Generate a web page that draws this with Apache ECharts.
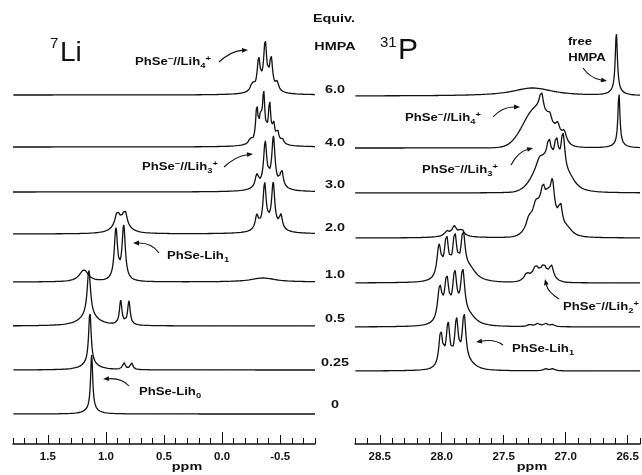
<!DOCTYPE html>
<html>
<head>
<meta charset="utf-8">
<script src="https://cdn.jsdelivr.net/npm/echarts@6/dist/echarts.min.js"></script>
<style>
  html, body { margin: 0; padding: 0; background: #fff; }
  #chart { width: 642px; height: 475px; }
</style>
</head>
<body>
<div id="chart"></div>
<script>
// equivalents of HMPA, one spectrum per row, top to bottom
const equivLabels = ['6.0', '4.0', '3.0', '2.0', '1.0', '0.5', '0.25', '0'];
const liTicks = [1.5, 1.0, 0.5, 0.0, -0.5];
const pTicks = [28.5, 28.0, 27.5, 27.0, 26.5];

// peaks: [shift (ppm), height, half width (ppm), 'g' = gaussian]
// 7Li
const li60 = [[-0.259, 8, 0.015], [-0.315, 29, 0.015], [-0.371, 44, 0.015], [-0.422, 30, 0.015], [-0.474, 8, 0.015], [-0.371, 7, 0.09]];
const li40 = [[-0.241, 5, 0.012], [-0.299, 34, 0.012], [-0.332, 20, 0.012], [-0.358, 44, 0.012], [-0.409, 36, 0.012], [-0.444, 16, 0.012], [-0.478, 11, 0.012], [-0.517, 6, 0.012], [-0.379, 6, 0.1]];
const li30 = [[-0.299, 13, 0.016], [-0.371, 42, 0.016], [-0.442, 47, 0.016], [-0.513, 17, 0.016], [-0.405, 7, 0.1]];
const li20 = [[-0.299, 14, 0.016], [-0.366, 43, 0.016], [-0.440, 43, 0.016], [-0.506, 14, 0.016], [-0.405, 7, 0.1],
              [0.903, 13, 0.022], [0.836, 15, 0.022], [0.871, 10, 0.07]];
const li10 = [[1.19, 12, 0.045], [0.914, 51, 0.017], [0.847, 54, 0.017], [-0.353, 4, 0.13]];
const li05 = [[1.147, 46, 0.017], [1.147, 10, 0.09], [0.873, 24, 0.013], [0.802, 24, 0.013]];
const li025 = [[1.138, 52, 0.013], [1.138, 6, 0.08], [0.845, 7, 0.013], [0.780, 7, 0.013]];
const li00 = [[1.123, 55, 0.011], [1.123, 4, 0.06]];

// 31P
const p60 = [[27.266, 8, 0.2], [26.591, 58, 0.0105], [26.591, 4, 0.05]];
const p40 = [[27.242, 38, 0.12, 'g'], [27.196, 20, 0.02], [27.129, 12, 0.024], [27.065, 14, 0.024], [27.012, 12, 0.024],
             [26.570, 52, 0.0097], [26.570, 3, 0.05]];
const p30 = [[27.169, 28, 0.105, 'g'], [27.210, 8, 0.032], [27.135, 22, 0.02], [27.075, 30, 0.02], [27.022, 42, 0.02], [26.968, 12, 0.065]];
const p20 = [[27.185, 30, 0.097, 'g'], [27.298, 8, 0.024], [27.242, 10, 0.024], [27.183, 18, 0.02], [27.141, 10, 0.02],
             [27.107, 33, 0.02], [27.043, 23, 0.02], [26.984, 7, 0.05],
             [27.895, 5, 0.08], [27.960, 4, 0.016], [27.899, 7, 0.016], [27.839, 6, 0.016]];
const p10 = [[28.022, 33, 0.02], [27.962, 40, 0.02], [27.895, 41, 0.02], [27.828, 42, 0.02], [27.774, 12, 0.065],
             [27.210, 9, 0.09, 'g'], [27.315, 6, 0.02], [27.242, 8, 0.02], [27.177, 9, 0.02], [27.115, 13, 0.02]];
const p05 = [[28.016, 35, 0.021], [27.960, 42, 0.021], [27.895, 46, 0.021], [27.831, 48, 0.021], [27.774, 8, 0.065],
             [27.290, 2, 0.02], [27.226, 3, 0.02], [27.161, 3, 0.02], [27.105, 2, 0.02]];
const p025 = [[28.008, 36, 0.018], [27.949, 42, 0.018], [27.881, 45, 0.018], [27.820, 50, 0.018], [27.774, 5, 0.065],
              [27.161, 2, 0.02], [27.105, 2, 0.02]];

const liRows = [li60, li40, li30, li20, li10, li05, li025, li00];
const pRows = [p60, p40, p30, p20, p10, p05, p025];

// layout: baseline of every row, px above the ppm axis
const liBase = [349, 297, 252, 210, 162, 118, 74, 30];
const pBase = [348, 296, 251, 206, 161, 117, 73];
const rowLabelY = [90, 143, 185, 228, 275, 319, 363, 405];

function spectrum(peaks, lo, hi, base) {
  const n = 1600, pts = [];
  for (let i = 0; i <= n; i++) {
    const x = lo + (hi - lo) * i / n;
    let y = 0;
    peaks.forEach(([c, h, w, kind]) => {
      const d = (x - c) / w;
      y += kind === 'g' ? h * Math.exp(-Math.LN2 * d * d) : h / (1 + d * d);
    });
    pts.push([x, base + y]);
  }
  return pts;
}

const ink = '#111';
const series = [];
liRows.forEach((pk, i) => series.push({
  type: 'line', xAxisIndex: 0, yAxisIndex: 0, showSymbol: false, symbol: 'none', silent: true,
  lineStyle: { color: ink, width: 1.3 }, data: spectrum(pk, -0.8, 1.8, liBase[i])
}));
pRows.forEach((pk, i) => series.push({
  type: 'line', xAxisIndex: 3, yAxisIndex: 1, showSymbol: false, symbol: 'none', silent: true,
  lineStyle: { color: ink, width: 1.3 }, data: spectrum(pk, 26.4, 28.7, pBase[i])
}));

function ppmAxis(grid, min, max, ticks, len, labels, line) {
  return {
    type: 'value', gridIndex: grid, min: min, max: max, inverse: true, position: 'bottom',
    interval: ticks ? undefined : 0.1,
    axisLine: { show: line, lineStyle: { color: ink, width: 1.5 } },
    axisTick: { show: true, inside: true, length: len, lineStyle: { color: ink, width: 1 },
                customValues: ticks || undefined },
    axisLabel: labels ? { show: true, customValues: ticks, margin: 7, color: ink,
                          fontFamily: 'Liberation Sans', fontWeight: 'bold', fontSize: 11.5,
                          formatter: v => v.toFixed(1) } : { show: false },
    splitLine: { show: false }
  };
}

const rich = {
  sup: { fontSize: 7.5, fontWeight: 'bold', fontFamily: 'Liberation Sans', fill: ink, verticalAlign: 'top' },
  sub: { fontSize: 7.5, fontWeight: 'bold', fontFamily: 'Liberation Sans', fill: ink, verticalAlign: 'bottom' }
};

function label(x, y, text, size, align) {
  return {
    type: 'text', x: x, y: y, scaleX: 1.25, silent: true,
    style: { text: text, fill: ink, fontFamily: 'Liberation Sans', fontWeight: 'bold', fontSize: size,
             lineHeight: 15, align: align, verticalAlign: 'middle',
             textAlign: align, textVerticalAlign: 'middle', rich: rich }
  };
}

function plain(x, y, text, size) {
  return {
    type: 'text', x: x, y: y, silent: true,
    style: { text: text, fill: ink, fontFamily: 'Liberation Sans', fontSize: size,
             align: 'left', verticalAlign: 'middle', textAlign: 'left', textVerticalAlign: 'middle' }
  };
}

function arrow(x1, y1, cx, cy, x2, y2) {
  const a = Math.atan2(y2 - cy, x2 - cx);
  const L = 6, W = 2.4;
  const bx = x2 - L * Math.cos(a), by = y2 - L * Math.sin(a);
  const nx = -Math.sin(a), ny = Math.cos(a);
  return [
    { type: 'bezierCurve', silent: true, shape: { x1: x1, y1: y1, cpx1: cx, cpy1: cy, x2: bx, y2: by },
      style: { stroke: ink, lineWidth: 1.1, fill: null } },
    { type: 'polygon', silent: true, shape: { points: [[x2, y2], [bx + nx * W, by + ny * W], [bx - nx * W, by - ny * W]] },
      style: { fill: ink } }
  ];
}

const graphic = [
  plain(50, 44, '7', 15), plain(60, 53, 'Li', 28),
  plain(380, 43, '31', 15), plain(398, 51, 'P', 30),
  label(334, 19, 'Equiv.', 11.5, 'center'),
  label(335, 47, 'HMPA', 11.5, 'center'),
  label(187, 467, 'ppm', 11.5, 'center'),
  label(532, 467, 'ppm', 11.5, 'center'),
  label(135, 62, 'PhSe{sup|−}//Lih{sub|4}{sup|+}', 10.5, 'left'),
  label(142, 167, 'PhSe{sup|−}//Lih{sub|3}{sup|+}', 10.5, 'left'),
  label(167, 256, 'PhSe-Lih{sub|1}', 10.5, 'left'),
  label(139, 392, 'PhSe-Lih{sub|0}', 10.5, 'left'),
  label(580, 42, 'free', 10.5, 'center'),
  label(587, 58, 'HMPA', 10.5, 'center'),
  label(405, 118, 'PhSe{sup|−}//Lih{sub|4}{sup|+}', 10.5, 'left'),
  label(422, 170, 'PhSe{sup|−}//Lih{sub|3}{sup|+}', 10.5, 'left'),
  label(563, 307, 'PhSe{sup|−}//Lih{sub|2}{sup|+}', 10.5, 'left'),
  label(512, 349, 'PhSe-Lih{sub|1}', 10.5, 'left')
].concat(
  equivLabels.map((t, i) => label(335, rowLabelY[i], t, 11.5, 'center')),
  arrow(219, 62, 231, 51, 248, 50),
  arrow(224, 167, 236, 156, 253, 154),
  arrow(159, 253, 152, 243, 133, 243),
  arrow(129, 386, 122, 378, 103, 379),
  arrow(583, 68, 590, 78, 607, 81),
  arrow(493, 117, 502, 107, 520, 107),
  arrow(511, 165, 518, 152, 533, 148),
  arrow(559, 299, 548, 292, 545, 279),
  arrow(503, 345, 495, 339, 476, 342)
);

const chart = echarts.init(document.getElementById('chart'), null, { renderer: 'canvas' });
chart.setOption({
  animation: false,
  backgroundColor: '#fff',
  grid: [
    { left: 13, right: 327, top: 0, bottom: 31 },
    { left: 355, right: 2, top: 0, bottom: 31 }
  ],
  xAxis: [
    ppmAxis(0, -0.8, 1.8, liTicks, 9, true, true),
    ppmAxis(0, -0.8, 1.8, null, 6, false, false),
    ppmAxis(0, -0.8, 1.8, [1.0, 0.0], 12, false, false),
    ppmAxis(1, 26.4, 28.7, pTicks, 9, true, true),
    ppmAxis(1, 26.4, 28.7, null, 6, false, false),
    ppmAxis(1, 26.4, 28.7, [28.0, 27.0], 12, false, false)
  ],
  yAxis: [
    { type: 'value', gridIndex: 0, min: 0, max: 444, show: false },
    { type: 'value', gridIndex: 1, min: 0, max: 444, show: false }
  ],
  series: series,
  graphic: graphic
});
</script>
</body>
</html>
